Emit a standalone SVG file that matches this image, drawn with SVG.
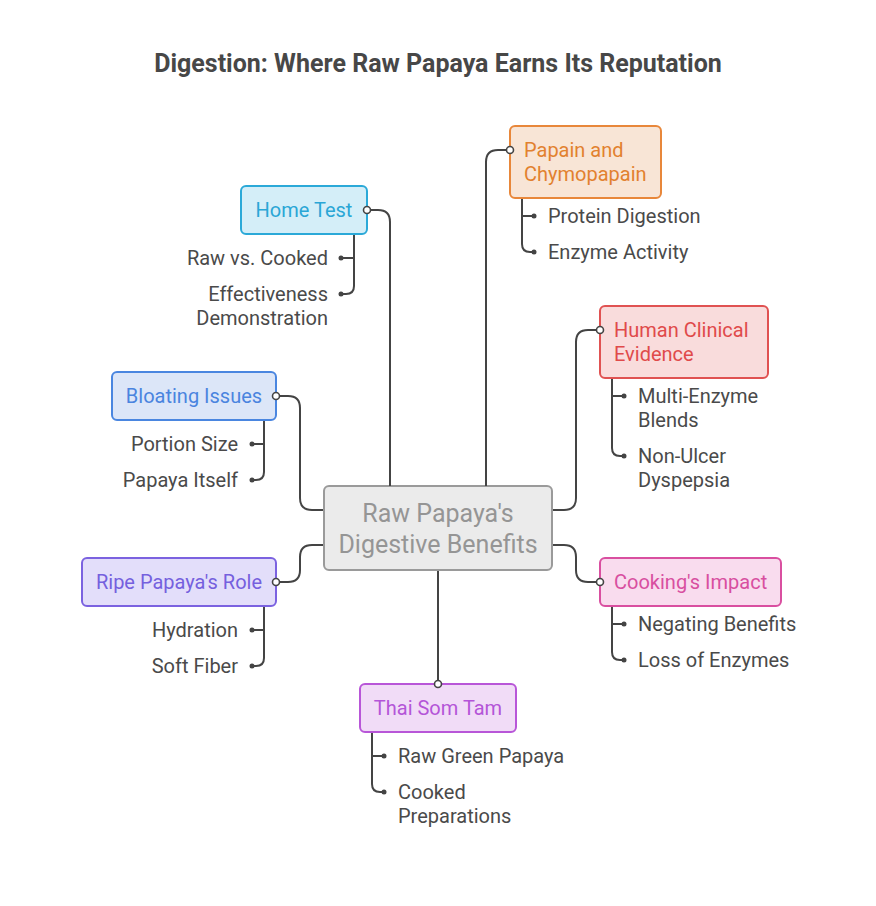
<svg xmlns="http://www.w3.org/2000/svg" width="876" height="906" viewBox="0 0 876 906">
<style>
text{font-family:Roboto,"Liberation Sans",sans-serif;}
.title{font-size:25px;font-weight:bold;fill:#474747;}
.lbl{font-size:20px;}
.sub{font-size:20px;fill:#4a4a4a;}
.c{fill:none;stroke:#444;stroke-width:2;}
.o{fill:#fff;stroke:#444;stroke-width:1.6;}
.d{fill:#444;}
</style>
<rect width="876" height="906" fill="#fff"/>
<text class="title" x="438" y="72" text-anchor="middle">Digestion: Where Raw Papaya Earns Its Reputation</text>
<g id="central">
<rect x="324" y="486" width="228" height="84" rx="5" fill="#ebebeb" stroke="#9a9a9a" stroke-width="2"/>
<text x="438" y="522" text-anchor="middle" font-size="25" fill="#959595">Raw Papaya's</text>
<text x="438" y="553" text-anchor="middle" font-size="25" fill="#959595">Digestive Benefits</text>
</g>
<g id="home-test">
<rect x="241" y="186" width="126" height="48" rx="5" fill="#d4eef8" stroke="#2ba9d8" stroke-width="2"/>
<text class="lbl" x="304" y="217" text-anchor="middle" fill="#2aa6d6">Home Test</text>
<text class="sub" x="328" y="265" text-anchor="end">Raw vs. Cooked</text>
<text class="sub" x="328" y="301" text-anchor="end">Effectiveness</text>
<text class="sub" x="328" y="325" text-anchor="end">Demonstration</text>
</g>
<g id="papain">
<rect x="510" y="126" width="151" height="72" rx="5" fill="#f8e5d6" stroke="#e8873a" stroke-width="2"/>
<text class="lbl" x="524" y="157" fill="#e2812f">Papain and</text>
<text class="lbl" x="524" y="181" fill="#e2812f">Chymopapain</text>
<text class="sub" x="548" y="223">Protein Digestion</text>
<text class="sub" x="548" y="259">Enzyme Activity</text>
</g>
<g id="human-clinical">
<rect x="600" y="306" width="168" height="72" rx="5" fill="#f9dcdc" stroke="#e05252" stroke-width="2"/>
<text class="lbl" x="614" y="337" fill="#e04a4a">Human Clinical</text>
<text class="lbl" x="614" y="361" fill="#e04a4a">Evidence</text>
<text class="sub" x="638" y="403">Multi-Enzyme</text>
<text class="sub" x="638" y="427">Blends</text>
<text class="sub" x="638" y="463">Non-Ulcer</text>
<text class="sub" x="638" y="487">Dyspepsia</text>
</g>
<g id="bloating">
<rect x="112" y="372" width="164" height="48" rx="5" fill="#dce6f8" stroke="#4a86e0" stroke-width="2"/>
<text class="lbl" x="194" y="403" text-anchor="middle" fill="#4a84df">Bloating Issues</text>
<text class="sub" x="238" y="451" text-anchor="end">Portion Size</text>
<text class="sub" x="238" y="487" text-anchor="end">Papaya Itself</text>
</g>
<g id="ripe-papaya">
<rect x="82" y="558" width="194" height="48" rx="5" fill="#e3defa" stroke="#7b62e0" stroke-width="2"/>
<text class="lbl" x="179" y="589" text-anchor="middle" fill="#7560de">Ripe Papaya's Role</text>
<text class="sub" x="238" y="637" text-anchor="end">Hydration</text>
<text class="sub" x="238" y="673" text-anchor="end">Soft Fiber</text>
</g>
<g id="cooking">
<rect x="600" y="558" width="181" height="48" rx="5" fill="#f9dcee" stroke="#d94fa0" stroke-width="2"/>
<text class="lbl" x="614" y="589" fill="#d84fa0">Cooking's Impact</text>
<text class="sub" x="638" y="631">Negating Benefits</text>
<text class="sub" x="638" y="667">Loss of Enzymes</text>
</g>
<g id="thai-som-tam">
<rect x="360" y="684" width="156" height="48" rx="5" fill="#f1dcf7" stroke="#b856d8" stroke-width="2"/>
<text class="lbl" x="438" y="715" text-anchor="middle" fill="#b455d8">Thai Som Tam</text>
<text class="sub" x="398" y="763">Raw Green Papaya</text>
<text class="sub" x="398" y="799">Cooked</text>
<text class="sub" x="398" y="823">Preparations</text>
</g>
<g id="connectors">
<path class="c" d="M370 210 H378 Q390 210 390 222 V486"/>
<path class="c" d="M506 150 H498 Q486 150 486 162 V486"/>
<path class="c" d="M596 330 H588 Q576 330 576 342 V498 Q576 510 564 510 H553"/>
<path class="c" d="M280 396 H288 Q300 396 300 408 V498 Q300 510 312 510 H323"/>
<path class="c" d="M280 582 H288 Q300 582 300 570 V557 Q300 545 312 545 H323"/>
<path class="c" d="M596 582 H588 Q576 582 576 570 V557 Q576 545 564 545 H553"/>
<path class="c" d="M438 571 V680"/>
<path class="c" d="M354 235 V286 Q354 294 346 294 H341 M354 258 H341"/>
<path class="c" d="M522 199 V244 Q522 252 530 252 H534 M522 216 H534"/>
<path class="c" d="M612 379 V448 Q612 456 620 456 H624 M612 396 H624"/>
<path class="c" d="M264 421 V472 Q264 480 256 480 H252 M264 444 H252"/>
<path class="c" d="M264 607 V658 Q264 666 256 666 H252 M264 630 H252"/>
<path class="c" d="M612 607 V652 Q612 660 620 660 H624 M612 624 H624"/>
<path class="c" d="M372 733 V784 Q372 792 380 792 H384 M372 756 H384"/>
<circle class="o" cx="367" cy="210" r="3.5"/>
<circle class="o" cx="510" cy="150" r="3.5"/>
<circle class="o" cx="600" cy="330" r="3.5"/>
<circle class="o" cx="276" cy="396" r="3.5"/>
<circle class="o" cx="276" cy="582" r="3.5"/>
<circle class="o" cx="600" cy="582" r="3.5"/>
<circle class="o" cx="438" cy="684" r="3.5"/>
<circle class="d" cx="341" cy="258" r="2.5"/><circle class="d" cx="341" cy="294" r="2.5"/>
<circle class="d" cx="534" cy="216" r="2.5"/><circle class="d" cx="534" cy="252" r="2.5"/>
<circle class="d" cx="624" cy="396" r="2.5"/><circle class="d" cx="624" cy="456" r="2.5"/>
<circle class="d" cx="252" cy="444" r="2.5"/><circle class="d" cx="252" cy="480" r="2.5"/>
<circle class="d" cx="252" cy="630" r="2.5"/><circle class="d" cx="252" cy="666" r="2.5"/>
<circle class="d" cx="624" cy="624" r="2.5"/><circle class="d" cx="624" cy="660" r="2.5"/>
<circle class="d" cx="384" cy="756" r="2.5"/><circle class="d" cx="384" cy="792" r="2.5"/>
</g>
</svg>
